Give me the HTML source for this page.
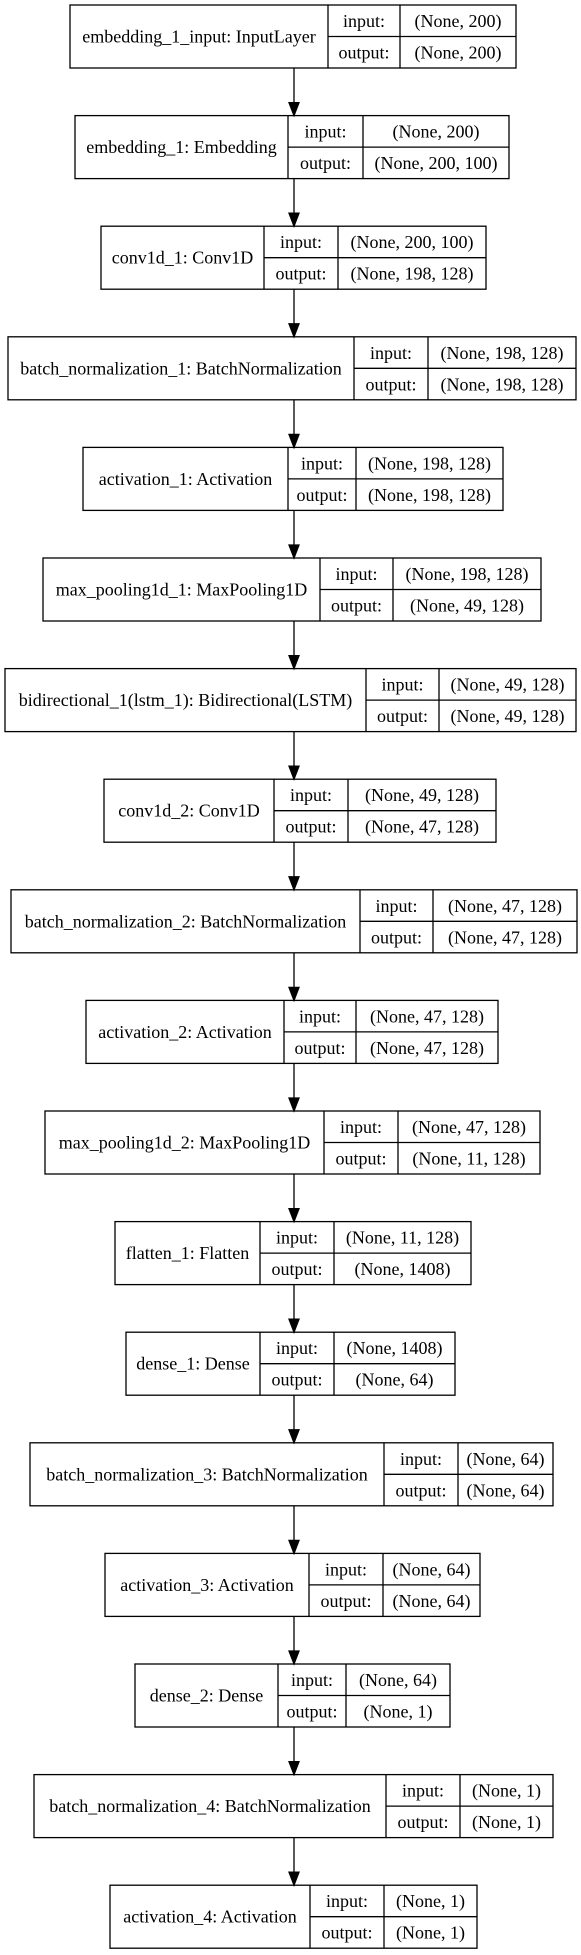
<!DOCTYPE html>
<html><head><meta charset="utf-8"><style>
html,body{margin:0;padding:0;background:#fff;}
svg{display:block;}
text{font-family:"Liberation Serif","DejaVu Serif",serif;font-size:18px;fill:#000;}
</style></head><body>
<svg id="s" width="581" height="1955" xmlns="http://www.w3.org/2000/svg">
<g id="g" stroke="#000" stroke-width="1.3" fill="none"></g>
<g id="t" text-anchor="middle"></g>
</svg>
<script>
var B=[
["embedding_1_input: InputLayer",70,328,400,516,"(None, 200)","(None, 200)"],
["embedding_1: Embedding",75,288,363,509,"(None, 200)","(None, 200, 100)"],
["conv1d_1: Conv1D",101,264,338,486,"(None, 200, 100)","(None, 198, 128)"],
["batch_normalization_1: BatchNormalization",8,354,428,576,"(None, 198, 128)","(None, 198, 128)"],
["activation_1: Activation",83,288,356,503,"(None, 198, 128)","(None, 198, 128)"],
["max_pooling1d_1: MaxPooling1D",43,320,393,541,"(None, 198, 128)","(None, 49, 128)"],
["bidirectional_1(lstm_1): Bidirectional(LSTM)",5,366,439,576,"(None, 49, 128)","(None, 49, 128)"],
["conv1d_2: Conv1D",104,274,348,496,"(None, 49, 128)","(None, 47, 128)"],
["batch_normalization_2: BatchNormalization",11,360,433,577,"(None, 47, 128)","(None, 47, 128)"],
["activation_2: Activation",86,284,356,498,"(None, 47, 128)","(None, 47, 128)"],
["max_pooling1d_2: MaxPooling1D",45,324,398,540,"(None, 47, 128)","(None, 11, 128)"],
["flatten_1: Flatten",115,260,334,471,"(None, 11, 128)","(None, 1408)"],
["dense_1: Dense",126,260,334,455,"(None, 1408)","(None, 64)"],
["batch_normalization_3: BatchNormalization",30,384,458,553,"(None, 64)","(None, 64)"],
["activation_3: Activation",105,309,383,480,"(None, 64)","(None, 64)"],
["dense_2: Dense",135,278,346,450,"(None, 64)","(None, 1)"],
["batch_normalization_4: BatchNormalization",34,386,460,553,"(None, 1)","(None, 1)"],
["activation_4: Activation",110,310,384,477,"(None, 1)","(None, 1)"]];
var g=document.getElementById('g'),t=document.getElementById('t'),NS='http://www.w3.org/2000/svg';
function el(p,n,a,tx){var e=document.createElementNS(NS,n);for(var k in a)e.setAttribute(k,a[k]);if(tx)e.textContent=tx;p.appendChild(e);return e;}
var H=63,CX=294;
B.forEach(function(b,i){
 var y=5+i*110.6,m=y+H/2;
 el(g,'rect',{x:b[1],y:y,width:b[4]-b[1],height:H});
 el(g,'line',{x1:b[2],y1:y,x2:b[2],y2:y+H});
 el(g,'line',{x1:b[3],y1:y,x2:b[3],y2:y+H});
 el(g,'line',{x1:b[2],y1:m,x2:b[4],y2:m});
 el(t,'text',{x:(b[1]+b[2])/2,y:m+6},b[0]);
 el(t,'text',{x:(b[2]+b[3])/2,y:y+22},'input:');
 el(t,'text',{x:(b[2]+b[3])/2,y:m+22},'output:');
 el(t,'text',{x:(b[3]+b[4])/2,y:y+22},b[5]);
 el(t,'text',{x:(b[3]+b[4])/2,y:m+22},b[6]);
 if(i<B.length-1){
  var ny=5+(i+1)*110.6;
  el(g,'line',{x1:CX,y1:y+H,x2:CX,y2:ny-13});
  el(g,'polygon',{points:(CX-5)+','+(ny-13)+' '+(CX+5)+','+(ny-13)+' '+CX+','+ny,fill:'#000'});
 }
});
</script>
</body></html>
